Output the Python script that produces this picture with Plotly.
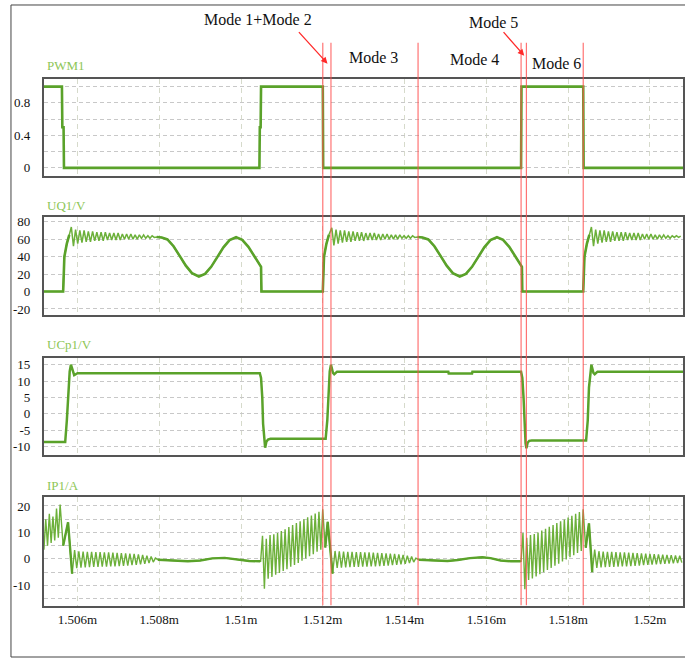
import plotly.graph_objects as go

# ---------------- data ----------------
T_RANGE = [1.50518, 1.52081]
X_TICKS = [1.506, 1.508, 1.510, 1.512, 1.514, 1.516, 1.518, 1.520]
X_TICK_TEXT = ["1.506m", "1.508m", "1.51m", "1.512m", "1.514m", "1.516m", "1.518m", "1.52m"]

MODE_LINES = [1.51200, 1.51220, 1.51433, 1.51685, 1.51698, 1.51837]
MODE_LABELS = ["Mode 1+Mode 2", "Mode 3", "Mode 4", "Mode 5", "Mode 6"]
PANEL_LABELS = ["PWM1", "UQ1/V", "UCp1/V", "IP1/A"]

# PWM1
PWM_T = [1.50518, 1.50562, 1.50563, 1.50566, 1.50567, 1.51045, 1.51046, 1.51048, 1.51049,
         1.51200, 1.51201, 1.51685, 1.51686, 1.51837, 1.51838, 1.52081]
PWM_V = [1, 1, 0.5, 0.5, 0, 0, 0.5, 0.5, 1, 1, 0, 0, 1, 1, 0, 0]

# UQ1/V : knots and ringing pieces (ringing: start, sample step, extrema values)
UQ1_K1_T = [1.50518, 1.50565, 1.50568, 1.50574, 1.50580]
UQ1_K1_V = [0, 0, 40, 55, 65]
UQ1_R1 = (1.50585, 0.000052, [74, 52, 71, 55, 70, 56, 70, 57, 69, 57, 69, 58, 68, 58, 68, 58, 68, 59, 67, 59,
                              67, 59, 67, 59, 66, 60, 66, 60, 66, 60, 65, 60, 65, 61, 65, 61, 64, 61, 64, 62])
UQ1_K2_T = [1.50794, 1.50806, 1.50820, 1.50835, 1.50850, 1.50865, 1.50880, 1.50897, 1.50912, 1.50927,
            1.50942, 1.50957, 1.50972, 1.50988, 1.51003, 1.51018, 1.51033, 1.51046, 1.51049, 1.51050,
            1.51200, 1.51203, 1.51209, 1.51215]
UQ1_K2_V = [62.5, 62, 59.7, 51.9, 40.9, 29.6, 21, 17.2, 20.2, 28.3, 39.4, 50.6, 58.9, 62.2, 59.3, 51.2,
            40.2, 30.3, 28.3, 0, 0, 40, 55, 65]
UQ1_R2 = (1.51222, 0.000052, [73, 53, 71, 55, 70, 56, 70, 57, 69, 57, 69, 58, 68, 58, 68, 58, 67, 59, 67, 59,
                              67, 59, 66, 59, 66, 60, 66, 60, 65, 60, 65, 60, 65, 61, 64, 61, 64, 61, 64, 62])
UQ1_K3_T = [1.51432, 1.51444, 1.51458, 1.51473, 1.51488, 1.51503, 1.51518, 1.51535, 1.51550, 1.51565,
            1.51580, 1.51595, 1.51610, 1.51626, 1.51641, 1.51656, 1.51671, 1.51684, 1.51687, 1.51688,
            1.51837, 1.51840, 1.51846, 1.51852]
UQ1_K3_V = [62.5, 62, 59.7, 51.9, 40.9, 29.6, 21, 17.2, 20.2, 28.3, 39.4, 50.6, 58.9, 62.2, 59.3, 51.2,
            40.2, 30.3, 28.3, 0, 0, 40, 55, 65]
UQ1_R3 = (1.51857, 0.000052, [74, 52, 71, 55, 70, 56, 70, 57, 69, 57, 69, 58, 68, 58, 68, 58, 68, 59, 67, 59,
                              67, 59, 67, 59, 66, 60, 66, 60, 66, 60, 65, 60, 65, 61, 65, 61, 64, 61, 64, 62,
                              64, 62, 63.5])

# UCp1/V
UCP_T = [1.50518, 1.50570, 1.50574, 1.50578, 1.50581, 1.50584, 1.50589, 1.50592, 1.50600,
         1.51046, 1.51049, 1.51052, 1.51054, 1.51057, 1.51059, 1.51062, 1.51066, 1.51072,
         1.51207, 1.51211, 1.51214, 1.51217, 1.51220, 1.51225, 1.51228, 1.51235,
         1.51507, 1.51508, 1.51565, 1.51566,
         1.51685, 1.51688, 1.51691, 1.51693, 1.51696, 1.51698, 1.51701, 1.51705, 1.51711,
         1.51844, 1.51848, 1.51851, 1.51854, 1.51857, 1.51862, 1.51865, 1.51872, 1.52081]
UCP_V = [-8.6, -8.6, -2, 8, 13, 15, 12.5, 11.8, 12.4,
         12.4, 11, 5, -3, -9, -10.3, -8.5, -7.8, -7.6,
         -7.6, -2, 8, 13, 15, 12.5, 12.1, 12.9,
         12.9, 12.3, 12.3, 12.9,
         12.9, 11, 5, -3, -9, -10.5, -8.8, -8.2, -8.1,
         -8.1, -2, 8, 13, 15, 12.5, 12.1, 12.9, 12.9]

# IP1/A
IP_RA = (1.50518, 0.000044, [3.5, 15, 5, 17, 6, 16, 7, 19, 8, 20.5])
IP_KA_T = [1.50565, 1.50577, 1.50587]
IP_KA_V = [5, 13.8, -5.6]
IP_RB = (1.50593, 0.000052, [3.3, -3.5, 2.9, -3.3, 2.8, -3.2, 2.7, -3.1, 2.7, -3.0, 2.6, -3.0, 2.6, -2.9,
                             2.5, -2.9, 2.5, -2.8, 2.4, -2.8, 2.3, -2.7, 2.2, -2.6, 2.1, -2.5, 2.0, -2.4,
                             1.9, -2.3, 1.7, -2.1, 1.5, -1.9, 1.2, -1.6, 0.9, -1.2, 0.3])
IP_KC_T = [1.50797, 1.50830, 1.50870, 1.50900, 1.50930, 1.50960, 1.50990, 1.51020, 1.51047]
IP_KC_V = [-0.3, -0.7, -0.9, -0.6, 0.2, 0.4, -0.2, -0.8, -0.9]
IP_RD = (1.51048, 0.000046, [-0.9, 8.7, -11.3, 7.6, -7.5, 9.0, -6.8, 9.3, -6.0, 9.8, -5.3, 10.5, -4.6, 11.2,
                             -3.9, 12.0, -3.0, 12.8, -2.3, 13.5, -1.5, 14.2, -0.7, 15.0, 0.2, 15.7, 1.0, 16.4,
                             1.8, 17.1, 2.7, 17.8, 3.5, 18.7])
IP_KE_T = [1.51206, 1.51212, 1.51224]
IP_KE_V = [4.3, 14, -5.6]
IP_RF = (1.51230, 0.000052, [3.0, -3.4, 2.9, -3.3, 2.8, -3.2, 2.7, -3.1, 2.7, -3.0, 2.6, -3.0, 2.6, -2.9,
                             2.5, -2.9, 2.5, -2.8, 2.4, -2.8, 2.3, -2.7, 2.2, -2.6, 2.1, -2.5, 2.0, -2.4,
                             1.9, -2.3, 1.7, -2.1, 1.5, -1.9, 1.2, -1.6, 0.9, -1.2, 0.3])
IP_KG_T = [1.51435, 1.51470, 1.51505, 1.51530, 1.51560, 1.51590, 1.51610, 1.51635, 1.51660, 1.51684]
IP_KG_V = [-0.3, -0.6, -0.8, -0.4, 0.3, 0.6, 0.3, -0.6, -0.9, -0.9]
IP_RH = (1.51685, 0.000046, [-0.9, 9.8, -11.5, 8.0, -8.0, 9.0, -7.4, 9.4, -6.6, 10.0, -5.8, 10.7, -5.0, 11.4,
                             -4.2, 12.1, -3.4, 12.8, -2.6, 13.5, -1.8, 14.2, -1.0, 14.9, -0.2, 15.6, 0.6, 16.3,
                             1.4, 17.0, 2.2, 17.7, 3.0, 18.7])
IP_KI_T = [1.51843, 1.51851, 1.51859]
IP_KI_V = [4.2, 13.4, -5.0]
IP_RJ = (1.51865, 0.000052, [3.5, -3.4, 2.9, -3.2, 2.8, -3.1, 2.7, -3.0, 2.7, -3.0, 2.6, -2.9, 2.5, -2.8,
                             2.5, -2.8, 2.4, -2.7, 2.3, -2.6, 2.2, -2.5, 2.1, -2.4, 2.0, -2.3, 1.9, -2.2,
                             1.8, -2.1, 1.7, -2.0, 1.6, -1.9, 1.5, -1.8, 1.4, -1.7, 1.3, -1.6, 1.2, -1.4])

Y_RANGES = [[-0.1, 1.1], [-27.4, 85], [-12.6, 17.2], [-17.8, 23.5]]
Y_TICKS = [[0, 0.4, 0.8], [-20, 0, 20, 40, 60, 80], [-10, -5, 0, 5, 10, 15], [-10, 0, 10, 20]]
Y_TICK_TEXT = [["0", "0.4", "0.8"], ["-20", "0", "20", "40", "60", "80"],
               ["-10", "-5", "0", "5", "10", "15"], ["-10", "0", "10", "20"]]
Y_MINOR = [[0.2, 0.6, 1.0], [], [], [-15, -5, 5, 15]]

# ---------------- building ----------------
def ring(piece):
    t0, dt, vals = piece
    return [t0 + i * dt for i in range(len(vals))], list(vals)

def chain(pieces):
    ts, vs = [], []
    for kind, a, b in pieces:
        if kind == "k":
            ts += a; vs += b
        else:
            t, v = ring(a)
            ts += t; vs += v
    return ts, vs

def knots_only(pieces):
    ts, vs = [], []
    for kind, a, b in pieces:
        if kind == "k":
            ts += a + [None]; vs += b + [None]
    return ts, vs

UQ1_PIECES = [("k", UQ1_K1_T, UQ1_K1_V), ("r", UQ1_R1, None), ("k", UQ1_K2_T, UQ1_K2_V),
              ("r", UQ1_R2, None), ("k", UQ1_K3_T, UQ1_K3_V), ("r", UQ1_R3, None)]
IP_PIECES = [("r", IP_RA, None), ("k", IP_KA_T, IP_KA_V), ("r", IP_RB, None), ("k", IP_KC_T, IP_KC_V),
             ("r", IP_RD, None), ("k", IP_KE_T, IP_KE_V), ("r", IP_RF, None), ("k", IP_KG_T, IP_KG_V),
             ("r", IP_RH, None), ("k", IP_KI_T, IP_KI_V), ("r", IP_RJ, None)]

W, H = 685, 659
def px(p): return p / W
def py(p): return 1 - p / H

PANEL_TOP = [76, 215.7, 356.7, 496.7]
PANEL_BOT = [174, 314.3, 455, 606.7]
LABEL_Y = [63, 204, 344, 485]

GREEN = "#5aa22a"
THIN = "#6cb03a"
FONT = "Liberation Serif"

fig = go.Figure()

def add(ts, vs, i, width, color):
    fig.add_trace(go.Scatter(x=ts, y=vs, mode="lines", line=dict(color=color, width=width),
                             xaxis="x" + ("" if i == 1 else str(i)), yaxis="y" + ("" if i == 1 else str(i)),
                             hoverinfo="skip", connectgaps=False))

add(PWM_T, PWM_V, 1, 2.6, GREEN)
t, v = chain(UQ1_PIECES); add(t, v, 2, 1.5, THIN)
t, v = knots_only(UQ1_PIECES); add(t, v, 2, 2.6, GREEN)
add(UCP_T, UCP_V, 3, 2.5, GREEN)
t, v = chain(IP_PIECES); add(t, v, 4, 1.4, THIN)
t, v = knots_only(IP_PIECES); add(t, v, 4, 2.4, GREEN)

layout = dict(width=W, height=H, margin=dict(l=0, r=0, t=0, b=0),
              paper_bgcolor="white", plot_bgcolor="white", showlegend=False,
              font=dict(family=FONT, size=13, color="#111"))

for i in range(4):
    n = "" if i == 0 else str(i + 1)
    layout["xaxis" + n] = dict(domain=[px(44), px(684)], range=T_RANGE, anchor="y" + n,
                               showline=True, mirror=True, linecolor="#555", linewidth=2,
                               tickvals=X_TICKS, ticktext=X_TICK_TEXT, showticklabels=(i == 3),
                               ticks="", showgrid=True, gridcolor="#d6dacb", griddash="5px,4px",
                               gridwidth=1, zeroline=False, ticklabelstandoff=0,
                               tickfont=dict(family=FONT, size=13, color="#111"))
    ydict = dict(domain=[py(PANEL_BOT[i]), py(PANEL_TOP[i])], range=Y_RANGES[i], anchor="x" + n,
                 showline=True, mirror=True, linecolor="#555", linewidth=2,
                 tickvals=Y_TICKS[i], ticktext=Y_TICK_TEXT[i], ticks="",
                 showgrid=True, gridcolor="#c8c8c8", griddash="4px,3px", gridwidth=1,
                 zeroline=False, ticklabelstandoff=9,
                 tickfont=dict(family=FONT, size=13, color="#111"))
    if Y_MINOR[i]:
        ydict["minor"] = dict(tickvals=Y_MINOR[i], showgrid=True, gridcolor="#c8c8c8",
                              griddash="4px,3px", gridwidth=1, ticks="")
    layout["yaxis" + n] = ydict

shapes = [dict(type="rect", xref="paper", yref="paper", x0=px(11), x1=px(700), y0=py(658), y1=py(2),
               line=dict(color="#444", width=1), fillcolor="rgba(0,0,0,0)", layer="below")]
for tm in MODE_LINES:
    shapes.append(dict(type="line", xref="x", yref="paper", x0=tm, x1=tm, y0=py(606), y1=py(40),
                       line=dict(color="rgba(255,80,80,0.8)", width=1.2), layer="above"))
layout["shapes"] = shapes

ann = []
for lab, y in zip(PANEL_LABELS, LABEL_Y):
    ann.append(dict(text=lab, xref="paper", yref="paper", x=px(45), y=py(y), xanchor="left",
                    yanchor="middle", showarrow=False, font=dict(family=FONT, size=13, color="#8dc655")))
MODE_POS = [(258, 17), (374, 55), (475, 57), (494, 20), (557, 61)]
for lab, (x, y) in zip(MODE_LABELS, MODE_POS):
    ann.append(dict(text=lab, xref="paper", yref="paper", x=px(x), y=py(y), xanchor="center",
                    yanchor="middle", showarrow=False, font=dict(family=FONT, size=16, color="#111")))
# arrows
for (hx, hy, tx, ty) in [(328, 61, 298, 28), (525, 53, 503, 28)]:
    ann.append(dict(text="", xref="paper", yref="paper", x=px(hx), y=py(hy), ax=tx - hx, ay=ty - hy,
                    showarrow=True, arrowhead=2, arrowsize=1, arrowwidth=1.3, arrowcolor="#ff2a2a"))
layout["annotations"] = ann

fig.update_layout(**layout)
fig.write_html("out.html")
